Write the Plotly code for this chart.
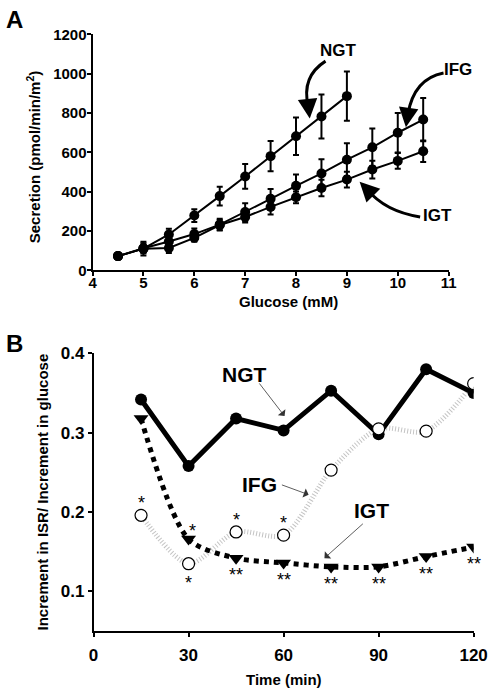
import plotly.graph_objects as go

# ---------------- data ----------------
# Panel A: secretion vs glucose
glu_ngt = [4.5, 5, 5.5, 6, 6.5, 7, 7.5, 8, 8.5, 9]
sec_ngt = [73, 111, 183, 279, 378, 478, 581, 682, 783, 886]
err_ngt = [10, 35, 29, 32, 48, 63, 77, 95, 112, 125]

glu_ifg = [4.5, 5, 5.5, 6, 6.5, 7, 7.5, 8, 8.5, 9, 9.5, 10, 10.5]
sec_ifg = [73, 113, 147, 185, 233, 297, 364, 430, 493, 563, 626, 700, 767]
err_ifg = [8, 25, 25, 28, 30, 45, 50, 58, 72, 83, 95, 100, 110]

glu_igt = [4.5, 5, 5.5, 6, 6.5, 7, 7.5, 8, 8.5, 9, 9.5, 10, 10.5]
sec_igt = [73, 111, 114, 166, 231, 272, 323, 372, 419, 462, 513, 557, 606]
err_igt = [8, 20, 25, 20, 25, 28, 38, 30, 42, 40, 45, 40, 55]

# Panel B: increment ratio vs time
times = [15, 30, 45, 60, 75, 90, 105, 120]
ratio_ngt = [0.342, 0.258, 0.318, 0.303, 0.353, 0.298, 0.380, 0.350]
ratio_ifg = [0.196, 0.135, 0.175, 0.171, 0.253, 0.305, 0.302, 0.362]
ratio_igt = [0.318, 0.166, 0.142, 0.136, 0.131, 0.131, 0.144, 0.156]

# significance marks
ifg_star_above_t = [15, 45, 60]
ifg_star_below_t = [30]
igt_star_above_t = [30]
igt_star_below_t = [45, 60, 75, 90, 105, 120]

W, H = 504, 698
FONT = "Liberation Sans, Arial, Helvetica, sans-serif"

def px_x(p):
    return p / W

def px_y(p):
    return 1 - p / H

fig = go.Figure()

# ---- panel A traces ----
for xs, ys, es in [(glu_ngt, sec_ngt, err_ngt), (glu_ifg, sec_ifg, err_ifg), (glu_igt, sec_igt, err_igt)]:
    fig.add_trace(go.Scatter(
        x=xs, y=ys, mode="lines+markers",
        line=dict(color="black", width=2),
        marker=dict(color="black", size=10, symbol="circle"),
        error_y=dict(type="data", array=es, visible=True, color="black", thickness=2, width=3),
        xaxis="x", yaxis="y", showlegend=False, hoverinfo="skip"))

# ---- panel B traces ----
fig.add_trace(go.Scatter(
    x=times, y=ratio_ifg, mode="lines", line=dict(color="#c4c4c4", width=5, dash="1px,2px", shape="spline", smoothing=0.8),
    xaxis="x2", yaxis="y2", showlegend=False, hoverinfo="skip"))
fig.add_trace(go.Scatter(
    x=times, y=ratio_igt, mode="lines+markers",
    line=dict(color="black", width=5, dash="dot", shape="spline", smoothing=0.8),
    marker=dict(color="black", size=13, symbol="triangle-down"),
    xaxis="x2", yaxis="y2", showlegend=False, hoverinfo="skip"))
fig.add_trace(go.Scatter(
    x=times, y=ratio_ngt, mode="lines+markers",
    line=dict(color="black", width=5),
    marker=dict(color="black", size=12, symbol="circle"),
    xaxis="x2", yaxis="y2", showlegend=False, hoverinfo="skip"))
fig.add_trace(go.Scatter(
    x=times, y=ratio_ifg, mode="markers",
    marker=dict(color="white", size=12, symbol="circle", line=dict(color="black", width=1.2)),
    xaxis="x2", yaxis="y2", showlegend=False, hoverinfo="skip"))

annotations = []

def star(t, val, text, shift, xshift=0):
    annotations.append(dict(x=t, y=val, xref="x2", yref="y2", text=text, showarrow=False,
                            yshift=shift, xshift=xshift,
                            font=dict(family=FONT, size=18, color="black")))

for t in ifg_star_above_t:
    star(t, ratio_ifg[times.index(t)], "*", 12)
for t in ifg_star_below_t:
    star(t, ratio_ifg[times.index(t)], "*", -19)
for t in igt_star_above_t:
    star(t, ratio_igt[times.index(t)], "*", 8, xshift=4)
for t in igt_star_below_t:
    star(t, ratio_igt[times.index(t)], "**", -17)

def paper_text(x, y, text, size, angle=0):
    annotations.append(dict(x=px_x(x), y=px_y(y), xref="paper", yref="paper", text=text, showarrow=False,
                            xanchor="center", yanchor="middle", textangle=angle,
                            font=dict(family=FONT, size=size, color="black")))

# panel labels
paper_text(10, 11, "<b>A</b>", 24)
paper_text(10, 343, "<b>B</b>", 24)

# axis titles
paper_text(29, 151, "<b>Secretion (pmol/min/m<sup>2</sup>)</b>", 15, -90)
paper_text(295, 300, "<b>Glucose (mM)</b>", 15)
paper_text(39, 495, "<b>Increment in ISR/ Increment in glucose</b>", 15, -90)
paper_text(290, 687, "<b>Time (min)</b>", 15)

# panel A group labels
paper_text(347, 43, "<b>NGT</b>", 17)
paper_text(471, 62, "<b>IFG</b>", 17)
paper_text(449, 212, "<b>IGT</b>", 17)

# arrowheads for curved arrows (panel A)
for (tx, ty, bx, by) in [(8.27, 773, 8.24, 840), (10.16, 728, 10.20, 800), (9.25, 451, 9.40, 412)]:
    annotations.append(dict(x=tx, y=ty, ax=bx, ay=by, xref="x", yref="y", axref="x", ayref="y",
                            text="", showarrow=True, arrowhead=2, arrowsize=1.3, arrowwidth=3,
                            arrowcolor="black", standoff=0))

# panel B group labels with thin arrows
labB = dict(family=FONT, size=21, color="black")
annotations.append(dict(x=47.8, y=0.373, xref="x2", yref="y2", text="<b>NGT</b>", showarrow=False, font=labB))
annotations.append(dict(x=52.4, y=0.2347, xref="x2", yref="y2", text="<b>IFG</b>", showarrow=False, font=labB))
annotations.append(dict(x=87.9, y=0.2018, xref="x2", yref="y2", text="<b>IGT</b>", showarrow=False, font=labB))
for (tx, ty, bx, by) in [(60.3, 0.321, 52.0, 0.364), (67.9, 0.222, 59.0, 0.235), (72.9, 0.142, 85.5, 0.187)]:
    annotations.append(dict(x=tx, y=ty, ax=bx, ay=by, xref="x2", yref="y2", axref="x2", ayref="y2",
                            text="", showarrow=True, arrowhead=1, arrowsize=2, arrowwidth=0.8,
                            arrowcolor="#333333", standoff=0))

# curved arrow shafts (panel A)
shapes = [
    dict(type="path", xref="x", yref="y", path="M 8.58,1064 Q 8.10,985 8.24,835",
         line=dict(color="black", width=3)),
    dict(type="path", xref="x", yref="y", path="M 10.90,1004 Q 10.32,975 10.20,795",
         line=dict(color="black", width=3)),
    dict(type="path", xref="x", yref="y", path="M 10.44,272 Q 9.75,300 9.40,412",
         line=dict(color="black", width=3)),
]

tickA = dict(family=FONT, size=15, color="black")
tickB = dict(family=FONT, size=17, color="black")

fig.update_layout(
    width=W, height=H,
    margin=dict(l=0, r=0, t=0, b=0),
    paper_bgcolor="white", plot_bgcolor="white",
    showlegend=False,
    annotations=annotations,
    shapes=shapes,
    xaxis=dict(domain=[px_x(91), px_x(461)], range=[4, 11], tickmode="array",
               tickvals=[4, 5, 6, 7, 8, 9, 10, 11], ticktext=[f"<b>{v}</b>" for v in [4, 5, 6, 7, 8, 9, 10, 11]],
               showline=True, linecolor="black", linewidth=2, ticks="outside", ticklen=4, tickwidth=2,
               tickcolor="black", showgrid=False, zeroline=False, tickfont=tickA, anchor="y",
               ticklabelstandoff=-6),
    yaxis=dict(domain=[px_y(268), px_y(26)], range=[0, 1200], tickmode="array",
               tickvals=[0, 200, 400, 600, 800, 1000, 1200],
               ticktext=[f"<b>{v}</b>" for v in [0, 200, 400, 600, 800, 1000, 1200]],
               showline=True, linecolor="black", linewidth=2, ticks="outside", ticklen=4, tickwidth=2,
               tickcolor="black", showgrid=False, zeroline=False, tickfont=tickA, anchor="x",
               ticklabelstandoff=-3),
    xaxis2=dict(domain=[px_x(92), px_x(487)], range=[0, 120], tickmode="array",
                tickvals=[0, 30, 60, 90, 120], ticktext=[f"<b>{v}</b>" for v in [0, 30, 60, 90, 120]],
                showline=True, linecolor="black", linewidth=1.5, ticks="outside", ticklen=4, tickwidth=1.5,
                tickcolor="black", showgrid=False, zeroline=False, tickfont=tickB, anchor="y2",
                ticklabelstandoff=4),
    yaxis2=dict(domain=[px_y(637.7), px_y(353)], range=[0.05, 0.4], tickmode="array",
                tickvals=[0.1, 0.2, 0.3, 0.4], ticktext=[f"<b>{v}</b>" for v in ["0.1", "0.2", "0.3", "0.4"]],
                showline=True, linecolor="black", linewidth=1.5, ticks="outside", ticklen=4, tickwidth=1.5,
                tickcolor="black", showgrid=False, zeroline=False, tickfont=tickB, anchor="x2"),
)

fig.write_html("out.html", config={"displayModeBar": False},
               post_script="document.body.style.margin='0';document.body.style.overflow='hidden';")
